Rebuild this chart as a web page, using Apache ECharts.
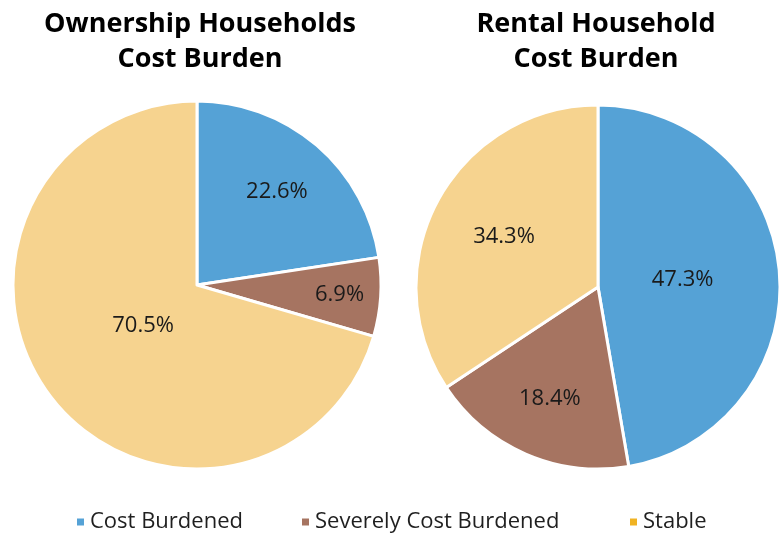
<!DOCTYPE html>
<html>
<head>
<meta charset="utf-8">
<script src="https://cdn.jsdelivr.net/npm/echarts@6/dist/echarts.min.js"></script>
<style>
  html, body { margin: 0; padding: 0; background: #fff; }
  #chart { width: 784px; height: 533px; }
</style>
</head>
<body>
<div id="chart"></div>
<script>
// categories and values
const categories = ['Cost Burdened', 'Severely Cost Burdened', 'Stable'];
const ownershipValues = [22.6, 6.9, 70.5];
const rentalValues = [47.3, 18.4, 34.3];
const titles = ['Ownership Households\nCost Burden', 'Rental Household\nCost Burden'];

// styling
const sliceColors = ['#55A2D6', '#A67461', '#F6D38F'];
const legendColors = ['#55A2D6', '#A67461', '#F0B323'];
const fontFamily = '"Open Sans", "Noto Sans", sans-serif';

// pie geometry (px) and label distance from centre as share of radius
const pies = [
  { cx: 197, cy: 285, r: 184, values: ownershipValues, labelDist: [0.65, 0.76, 0.35] },
  { cx: 598, cy: 287, r: 182, values: rentalValues, labelDist: [0.45, 0.65, 0.57] }
];
const titleCenters = [195, 591];

// shift the default inside label (at r/2) out/in along the slice's mid angle
function labelShift(pie, idx) {
  const total = pie.values.reduce((a, b) => a + b, 0);
  let cum = 0;
  for (let i = 0; i < idx; i++) cum += pie.values[i];
  const mid = (90 - (cum + pie.values[idx] / 2) / total * 360) * Math.PI / 180;
  const d = (pie.labelDist[idx] - 0.5) * pie.r;
  return { dx: d * Math.cos(mid), dy: -d * Math.sin(mid) };
}

const series = pies.map((pie, p) => ({
  type: 'pie',
  center: [pie.cx, pie.cy],
  radius: [0, pie.r],
  startAngle: 90,
  clockwise: true,
  avoidLabelOverlap: false,
  silent: true,
  itemStyle: { borderColor: '#fff', borderWidth: 3 },
  label: {
    show: true,
    position: 'inside',
    formatter: params => params.value.toFixed(1) + '%',
    color: '#1a1a1a',
    fontSize: 22,
    fontFamily: fontFamily
  },
  labelLine: { show: false },
  labelLayout: params => labelShift(pie, params.dataIndex),
  data: categories.map((name, i) => ({
    name: name,
    value: pie.values[i],
    itemStyle: { color: sliceColors[i] }
  }))
}));

const legendLeft = [75, 300, 628];
const legends = categories.map((name, i) => ({
  data: [{ name: name, itemStyle: { color: legendColors[i] } }],
  left: legendLeft[i],
  top: 511,
  padding: 0,
  icon: 'rect',
  itemWidth: 9,
  itemHeight: 9,
  selectedMode: false,
  textStyle: {
    fontSize: 22,
    color: '#1f1f1f',
    fontFamily: fontFamily
  }
}));

const option = {
  backgroundColor: '#fff',
  animation: false,
  title: titles.map((text, i) => ({
    text: text,
    left: titleCenters[i],
    top: 2,
    textAlign: 'center',
    textStyle: {
      fontSize: 27,
      fontWeight: 'bold',
      color: '#000',
      lineHeight: 35,
      fontFamily: fontFamily
    }
  })),
  legend: legends,
  series: series
};

const chart = echarts.init(document.getElementById('chart'));
chart.setOption(option);
</script>
</body>
</html>
